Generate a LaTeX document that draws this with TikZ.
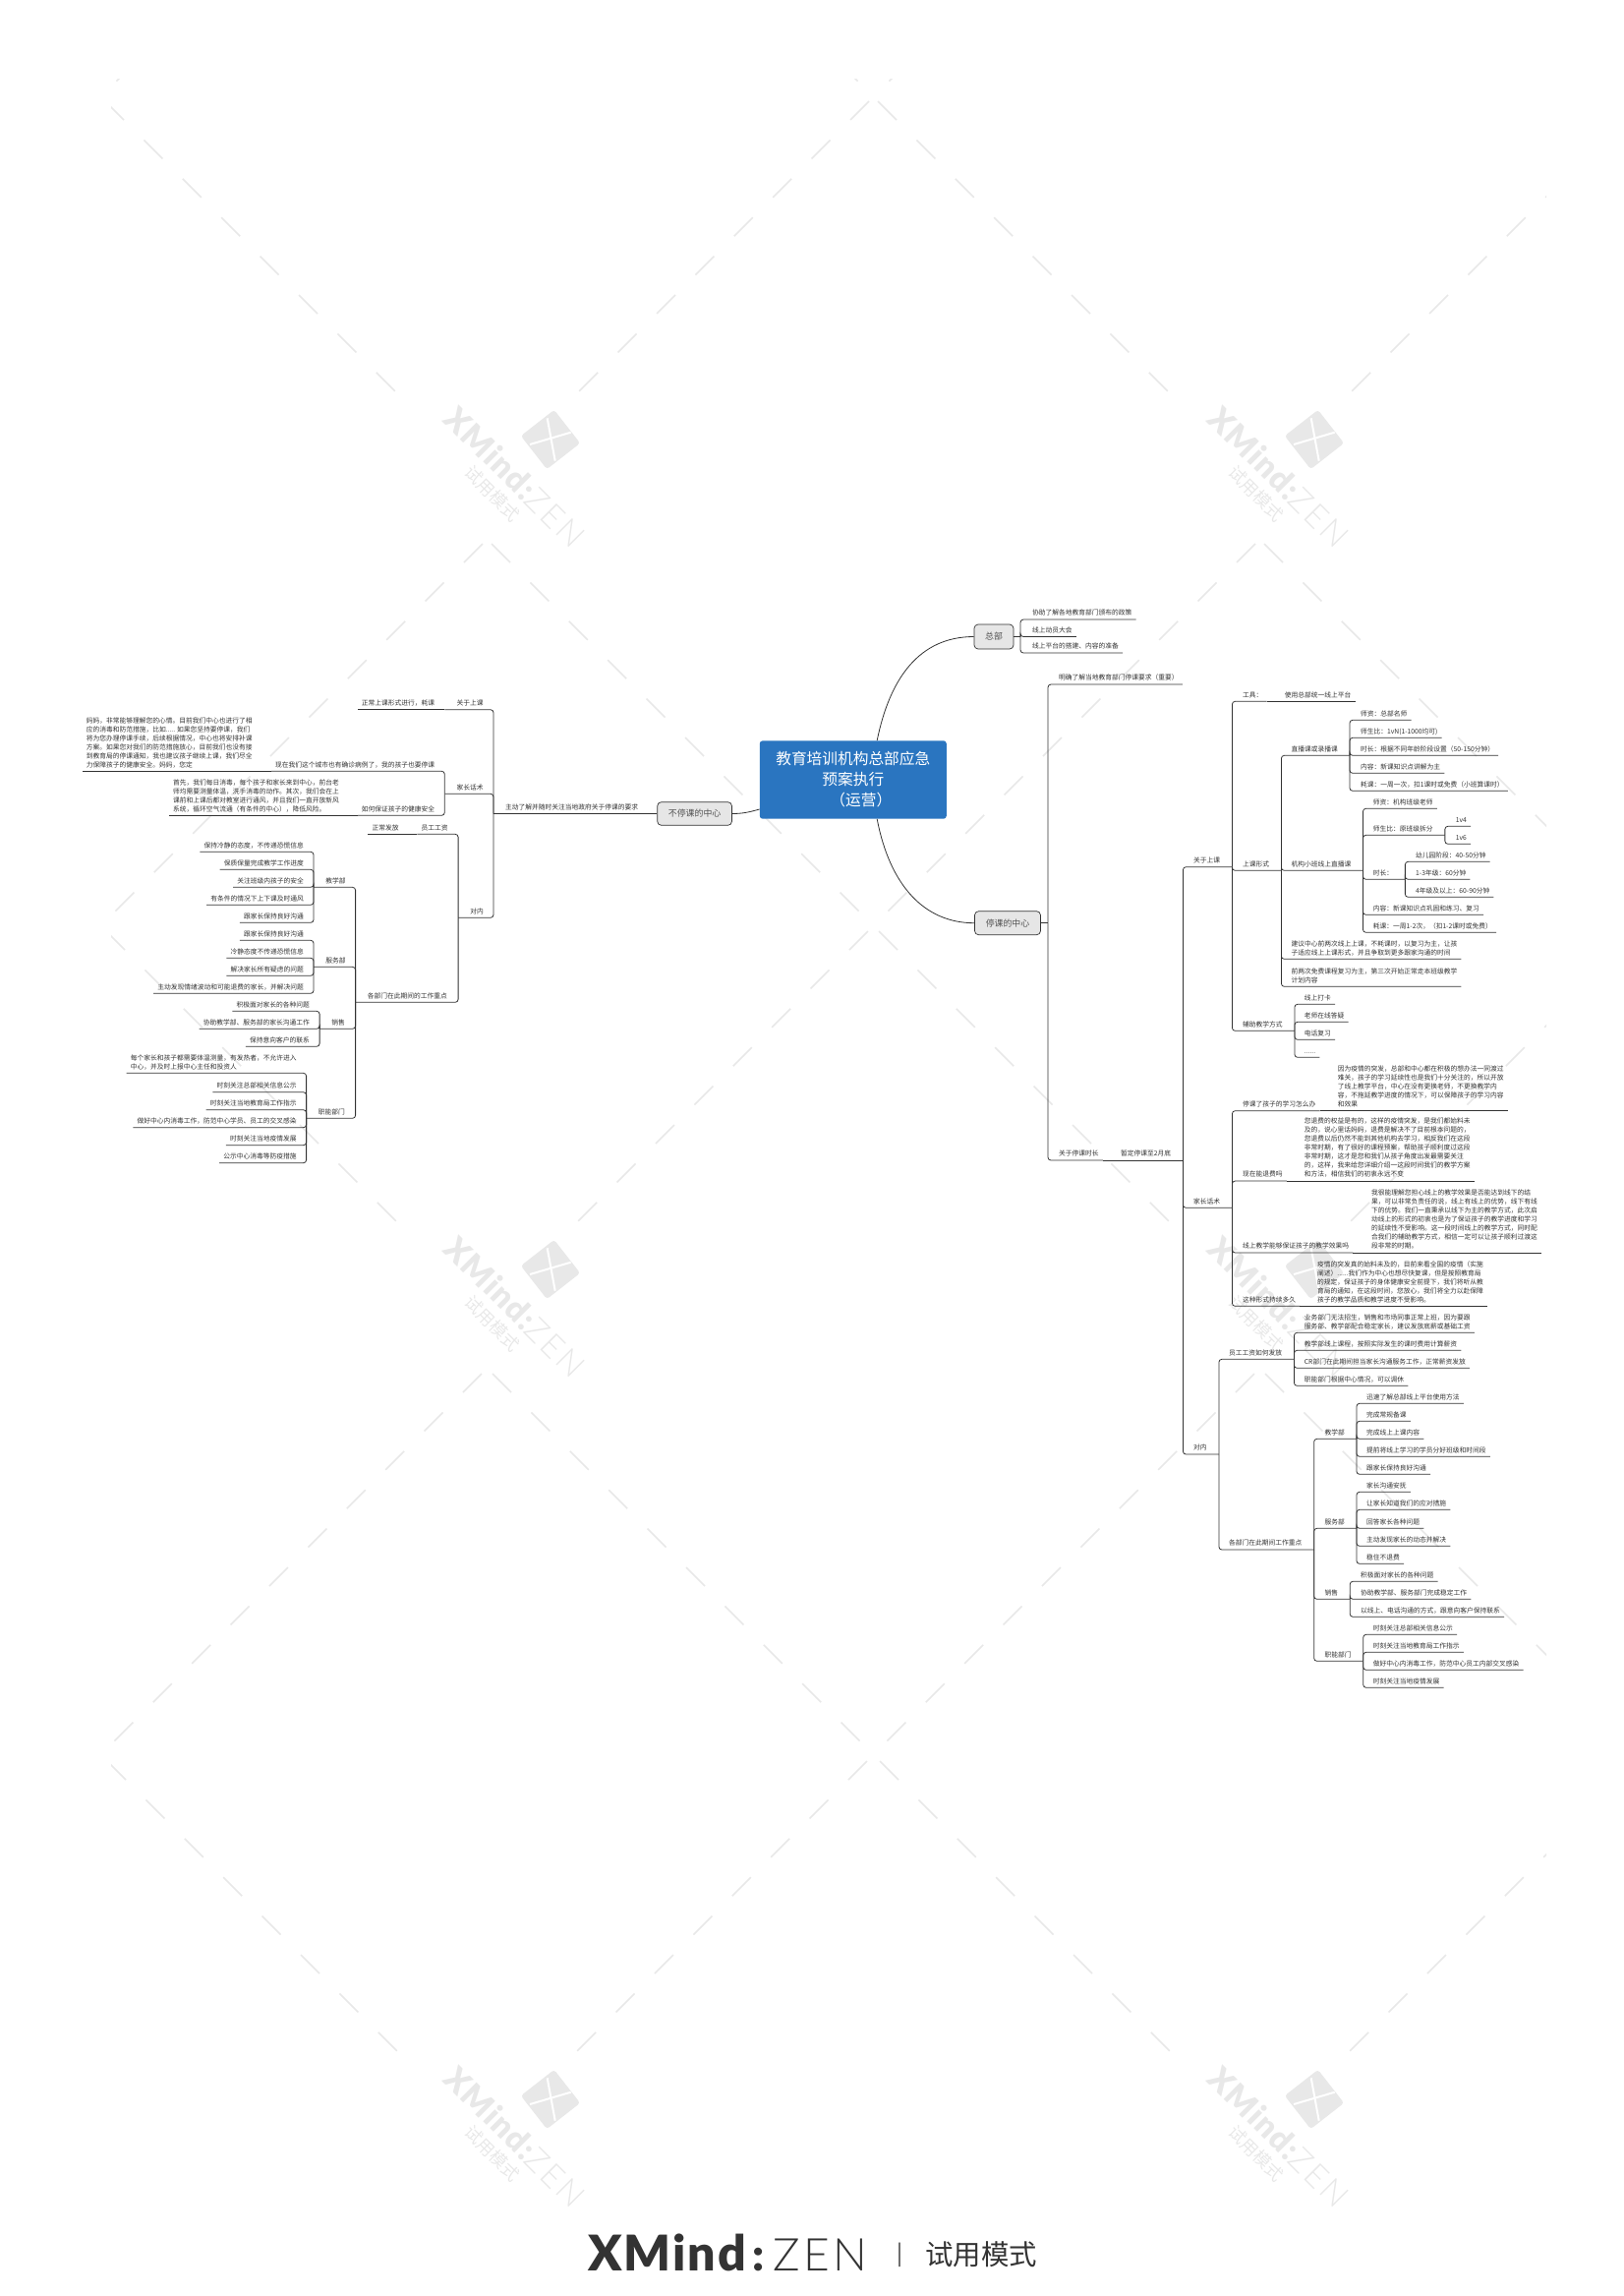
\documentclass[tikz,border=0pt]{standalone}
\usepackage{fontspec}
\setmainfont{Noto Sans CJK SC}
\newfontfamily\markfont{Lato Black}[LetterSpace=4]
\newfontfamily\marklight{Lato Light}[LetterSpace=8]
\definecolor{inkc}{HTML}{333333}
\definecolor{bluec}{HTML}{2A75C0}
\definecolor{topicc}{HTML}{E6E6E6}
\definecolor{wmc}{HTML}{E8E8E8}
\begin{document}
\begin{tikzpicture}[x=1pt,y=-1pt,
    wm/.style={wmc,line width=1.6pt},
    link/.style={inkc,line width=0.8pt,rounded corners=3pt},
    topic/.style={draw=inkc,fill=topicc,line width=0.7pt,rounded corners=4pt,text=inkc!85,font=\fontsize{8.9}{11}\selectfont,inner sep=0pt},
    itemtext/.style={inner xsep=4pt,inner ysep=3pt,text depth=1pt,text=inkc,font=\fontsize{6.75}{9}\selectfont},
    rt/.style={itemtext,anchor=south west,xshift=-4pt,align=left},
    lt/.style={itemtext,anchor=south east,xshift=4pt,align=left},
    rhub/.style={itemtext,anchor=south west,xshift=-4pt,execute at end node=\hspace*{8pt}},
    lhub/.style={itemtext,anchor=south east,xshift=4pt,execute at begin node=\hspace*{8pt}}]
    \useasboundingbox (0,0) rectangle (1652,2335);
    \begin{scope}
        \clip (113,80) rectangle (1573,2235);
        \foreach \tile in {-1,0,1} {
            \foreach \row in {0,...,17} {
                \pgfmathsetmacro\ya{553+844*\tile+39.4*\row}
                \foreach \col in {-3,...,4} {
                    \pgfmathsetmacro\xa{\ya-53-57*\tile+786*\col}
                    \pgfmathsetmacro\xb{258+57*\tile-\ya+786*\col}
                    \draw[wm] (\xa,\ya) -- ++(19,19);
                    \draw[wm] (\xb,\ya) -- ++(-19,19);
                }
            }
        }
    \end{scope}
    \foreach \lx/\ly in {524/485,1301/485,524/1329,1301/1329,524/2173,1301/2173} {
        \begin{scope}[shift={(\lx,\ly)}]
            \node[fill=wmc,rounded corners=3pt,minimum size=43pt,rotate=38,inner sep=0pt] (badge-\lx-\ly) at (36,-38) {};
            \draw[white,line width=2pt] (32.7,-59.7) -- (40.7,-16.3);
            \draw[white,line width=2pt] (15,-33) -- (56.7,-45.3);
            \node[wmc,rotate=-45,font=\fontsize{33}{33}\selectfont] (word-\lx-\ly) at (0,0) {{\markfont XMind:}{\marklight ZEN}};
            \node[wmc,rotate=-45,font=\fontsize{17.5}{18}\selectfont] (trial-\lx-\ly) at (-23,17) {试用模式};
        \end{scope}
    }

    \node[fill=bluec,rounded corners=3pt,minimum width=190pt,minimum height=79.4pt,inner sep=0pt,text=white,align=center,font=\fontsize{15.7}{21}\selectfont] (center) at (867.8,793) {教育培训机构总部应急\\预案执行\hspace*{12pt}\\\hspace*{16pt}（运营）};
    \node[topic,minimum width=40pt,minimum height=25pt] (hq) at (1011,647.5) {总部};
    \node[topic,minimum width=67pt,minimum height=24pt] (stop) at (1025,938.7) {停课的中心};
    \node[topic,minimum width=75.8pt,minimum height=23.6pt] (open) at (706.6,827.5) {不停课的中心};
    \draw[link] ([xshift=24.4pt]center.north) .. controls (905,690) and (935,647.5) .. (hq.west);
    \draw[link] ([xshift=24.4pt]center.south) .. controls (905,900) and (940,938.7) .. (stop.west);
    \draw[link] (center.west |- 0,823) .. controls (762,826) and (755,827.5) .. (open.east);

    \coordinate (hqs) at (1038,647.5);
    \node[rt] (hqa) at (1050,630) {协助了解各地教育部门颁布的政策};
    \node[rt] (hqb) at (1050,647.5) {线上动员大会};
    \node[rt] (hqc) at (1050,664) {线上平台的搭建、内容的准备};
    \draw[link] (hq.east) -- (hqs);
    \foreach \c in {hqa,hqb,hqc} \draw[link] (hqs) |- (\c.south east);

    \coordinate (stops) at (1066,938.7);
    \node[rt] (req) at (1077,696) {明确了解当地教育部门停课要求（重要）};
    \node[rt] (dur) at (1077,1180) {关于停课时长};
    \node[rhub] (feb) at (1140,1180) {暂定停课至2月底};
    \draw[link] (stop.east) -- (stops);
    \foreach \c in {req,dur} \draw[link] (stops) |- (\c.south east);
    \draw[link] (dur.south east) -- (feb.south east);

    \node[rhub] (cls) at (1214,881.7) {关于上课};
    \node[rhub] (say) at (1214,1228.3) {家长话术};
    \node[rhub] (inr) at (1214,1479) {对内};
    \foreach \c in {cls,say,inr} \draw[link] (feb.south east) |- (\c.south east);

    \node[rt] (tool) at (1264,713.3) {工具：};
    \node[rt] (tooluse) at (1306.7,713.3) {使用总部统一线上平台};
    \node[rhub] (form) at (1264,885.3) {上课形式};
    \node[rhub] (aid) at (1264,1048.3) {辅助教学方式};
    \foreach \c in {tool,form,aid} \draw[link] (cls.south east) |- (\c.south east);
    \draw[link] (tool.south east) -- (tooluse.south east);

    \node[rt] (aida) at (1326.7,1021.3) {线上打卡};
    \node[rt] (aidb) at (1326.7,1039.3) {老师在线答疑};
    \node[rt] (aidc) at (1326.7,1057.3) {电话复习};
    \node[rt] (aidd) at (1326.7,1075.3) {......};
    \foreach \c in {aida,aidb,aidc,aidd} \draw[link] (aid.south east) |- (\c.south east);

    \node[rhub] (live) at (1313.3,768.3) {直播课或录播课};
    \node[rhub] (small) at (1313.3,885.3) {机构小班线上直播课};
    \node[rt] (forma) at (1313.3,975.3) {建议中心前两次线上上课，不耗课时，以复习为主，让孩\\子适应线上上课形式，并且争取到更多跟家沟通的时间};
    \node[rt] (formb) at (1313.3,1003.3) {前两次免费课程复习为主，第三次开始正常走本班级教学\\计划内容};
    \foreach \c in {live,small,forma,formb} \draw[link] (form.south east) |- (\c.south east);

    \node[rt] (livea) at (1384,732.3) {师资：总部名师};
    \node[rt] (liveb) at (1384,750.3) {师生比：1vN(1-1000均可)};
    \node[rt] (livec) at (1384,768.3) {时长：根据不同年龄阶段设置（50-150分钟）};
    \node[rt] (lived) at (1384,786.3) {内容：新课知识点讲解为主};
    \node[rt] (livee) at (1384,804.3) {耗课：一周一次，扣1课时或免费（小班算课时）};
    \foreach \c in {livea,liveb,livec,lived,livee} \draw[link] (live.south east) |- (\c.south east);

    \node[rt] (smalla) at (1396.7,822.3) {师资：机构班级老师};
    \node[rhub] (smallb) at (1396.7,849.3) {师生比：原班级拆分};
    \node[rhub] (smallc) at (1396.7,894.3) {时长：};
    \node[rt] (smalld) at (1396.7,930.3) {内容：新课知识点巩固和练习、复习};
    \node[rt] (smalle) at (1396.7,948.3) {耗课：一周1-2次，（扣1-2课时或免费）};
    \foreach \c in {smalla,smallb,smallc,smalld,smalle} \draw[link] (small.south east) |- (\c.south east);
    \node[rt] (four) at (1480.7,840.3) {1v4};
    \node[rt] (six) at (1480.7,858.3) {1v6};
    \foreach \c in {four,six} \draw[link] (smallb.south east) |- (\c.south east);
    \node[rt] (kid) at (1440,876.3) {幼儿园阶段：40-50分钟};
    \node[rt] (low) at (1440,894.3) {1-3年级：60分钟};
    \node[rt] (high) at (1440,912.3) {4年级及以上：60-90分钟};
    \foreach \c in {kid,low,high} \draw[link] (smallc.south east) |- (\c.south east);

    \node[rt] (ska) at (1264,1129.7) {停课了孩子的学习怎么办};
    \node[rt] (ans) at (1360.7,1129.7) {因为疫情的突发，总部和中心都在积极的想办法一同渡过\\难关，孩子的学习延续性也是我们十分关注的，所以开放\\了线上教学平台，中心在没有更换老师，不更换教学内\\容，不拖延教学进度的情况下，可以保障孩子的学习内容\\和效果};
    \node[rt] (skb) at (1264,1201) {现在能退费吗};
    \node[rt] (anb) at (1326.7,1201) {您退费的权益是有的，这样的疫情突发，是我们都始料未\\及的，说心里话妈妈，退费是解决不了目前根本问题的，\\您退费以后仍然不能到其他机构去学习，相反我们在这段\\非常时期，有了很好的课程预案，帮助孩子顺利度过这段\\非常时期，这才是您和我们从孩子角度出发最需要关注\\的，这样，我来给您详细介绍一这段时间我们的教学方案\\和方法，相信我们的初衷永远不变};
    \node[rt] (skc) at (1264,1274) {线上教学能够保证孩子的教学效果吗};
    \node[rt] (anc) at (1395,1274) {我很能理解您担心线上的教学效果是否能达到线下的结\\果，可以非常负责任的说，线上有线上的优势，线下有线\\下的优势。我们一直秉承以线下为主的教学方式，此次启\\动线上的形式的初衷也是为了保证孩子的教学进度和学习\\的延续性不受影响。这一段时间线上的教学方式，同时配\\合我们的辅助教学方式，相信一定可以让孩子顺利过渡这\\段非常的时期。};
    \node[rt] (skd) at (1264,1328.3) {这种形式持续多久};
    \node[rt] (and) at (1340,1328.3) {疫情的突发真的始料未及的，目前来看全国的疫情（实施\\阐述）......我们作为中心也想尽快复课，但是按照教育局\\的规定，保证孩子的身体健康安全前提下，我们将听从教\\育局的通知，在这段时间，您放心，我们将全力以赴保障\\孩子的教学品质和教学进度不受影响。};
    \foreach \c/\d in {ska/ans,skb/anb,skc/anc,skd/and} {
        \draw[link] (say.south east) |- (\c.south east);
        \draw[link] (\c.south east) -- (\d.south east);
    }

    \node[rhub] (pay) at (1250,1382.3) {员工工资如何发放};
    \node[rhub] (dept) at (1250,1576) {各部门在此期间工作重点};
    \foreach \c in {pay,dept} \draw[link] (inr.south east) |- (\c.south east);
    \node[rt] (paya) at (1326.7,1355.3) {业务部门无法招生，销售和市场同事正常上班，因为要跟\\服务部、教学部配合稳定家长，建议发放底薪或基础工资};
    \node[rt] (payb) at (1326.7,1373.3) {教学部线上课程，按照实际发生的课时费用计算薪资};
    \node[rt] (payc) at (1326.7,1391.3) {CR部门在此期间担当家长沟通服务工作，正常薪资发放};
    \node[rt] (payd) at (1326.7,1409.3) {职能部门根据中心情况，可以调休};
    \foreach \c in {paya,payb,payc,payd} \draw[link] (pay.south east) |- (\c.south east);

    \node[rhub] (teach) at (1347.3,1463.3) {教学部};
    \node[rhub] (serve) at (1347.3,1554.3) {服务部};
    \node[rhub] (sale) at (1347.3,1626.3) {销售};
    \node[rhub] (func) at (1347.3,1689.3) {职能部门};
    \foreach \c in {teach,serve,sale,func} \draw[link] (dept.south east) |- (\c.south east);
    \node[rt] (teacha) at (1390,1427.3) {迅速了解总部线上平台使用方法};
    \node[rt] (teachb) at (1390,1445.3) {完成常规备课};
    \node[rt] (teachc) at (1390,1463.3) {完成线上上课内容};
    \node[rt] (teachd) at (1390,1481.3) {提前将线上学习的学员分好班级和时间段};
    \node[rt] (teache) at (1390,1499.3) {跟家长保持良好沟通};
    \foreach \c in {teacha,teachb,teachc,teachd,teache} \draw[link] (teach.south east) |- (\c.south east);
    \node[rt] (servea) at (1390,1517.3) {家长沟通安抚};
    \node[rt] (serveb) at (1390,1535.3) {让家长知道我们的应对措施};
    \node[rt] (servec) at (1390,1554.3) {回答家长各种问题};
    \node[rt] (served) at (1390,1572.3) {主动发现家长的动态并解决};
    \node[rt] (servee) at (1390,1590.3) {稳住不退费};
    \foreach \c in {servea,serveb,servec,served,servee} \draw[link] (serve.south east) |- (\c.south east);
    \node[rt] (salea) at (1384,1608.3) {积极面对家长的各种问题};
    \node[rt] (saleb) at (1384,1626.3) {协助教学部、服务部门完成稳定工作};
    \node[rt] (salec) at (1384,1644.3) {以线上、电话沟通的方式，跟意向客户保持联系};
    \foreach \c in {salea,saleb,salec} \draw[link] (sale.south east) |- (\c.south east);
    \node[rt] (funca) at (1396.7,1662.3) {时刻关注总部相关信息公示};
    \node[rt] (funcb) at (1396.7,1680.3) {时刻关注当地教育局工作指示};
    \node[rt] (funcc) at (1396.7,1698.3) {做好中心内消毒工作，防范中心员工内部交叉感染};
    \node[rt] (funcd) at (1396.7,1716.3) {时刻关注当地疫情发展};
    \foreach \c in {funca,funcb,funcc,funcd} \draw[link] (func.south east) |- (\c.south east);

    \node[lhub] (act) at (649.4,827.5) {主动了解并随时关注当地政府关于停课的要求};
    \draw[link] (open.west) -- (act.south west);
    \node[lhub] (lcls) at (491.7,721.7) {关于上课};
    \node[lhub] (lsay) at (491.7,807.3) {家长话术};
    \node[lhub] (linr) at (492,933.3) {对内};
    \foreach \c in {lcls,lsay,linr} \draw[link] (act.south west) |- (\c.south west);
    \node[lt] (lform) at (442.3,721.7) {正常上课形式进行，耗课};
    \draw[link] (lcls.south west) -- (lform.south west);

    \node[lt] (lska) at (442.3,784.3) {现在我们这个城市也有确诊病例了，我的孩子也要停课};
    \node[lt] (lans) at (256.7,784.3) {妈妈，非常能够理解您的心情。目前我们中心也进行了相\\应的消毒和防范措施，比如..... 如果您坚持要停课，我们\\将为您办理停课手续，后续根据情况，中心也将安排补课\\方案。如果您对我们的防范措施放心，目前我们也没有接\\到教育局的停课通知，我也建议孩子继续上课，我们尽全\\力保障孩子的健康安全。妈妈，您定};
    \node[lt] (lskb) at (442.3,829.3) {如何保证孩子的健康安全};
    \node[lt] (lanb) at (345,829.3) {首先，我们每日消毒，每个孩子和家长来到中心，前台老\\师均需要测量体温，洗手消毒的动作。其次，我们会在上\\课前和上课后都对教室进行通风，并且我们一直开放新风\\系统，循环空气流通（有条件的中心），降低风险。};
    \foreach \c/\d in {lska/lans,lskb/lanb} {
        \draw[link] (lsay.south west) |- (\c.south west);
        \draw[link] (\c.south west) -- (\d.south west);
    }

    \node[lt] (lpay) at (455.7,848.3) {员工工资};
    \node[lt] (lpaya) at (405.7,848.3) {正常发放};
    \node[lhub] (ldept) at (455,1019.3) {各部门在此期间的工作重点};
    \foreach \c in {lpay,ldept} \draw[link] (linr.south west) |- (\c.south west);
    \draw[link] (lpay.south west) -- (lpaya.south west);
    \node[lhub] (lteach) at (351.7,902.3) {教学部};
    \node[lhub] (lserve) at (351.7,983.3) {服务部};
    \node[lhub] (lsale) at (351,1046.3) {销售};
    \node[lhub] (lfunc) at (351,1137.3) {职能部门};
    \foreach \c in {lteach,lserve,lsale,lfunc} \draw[link] (ldept.south west) |- (\c.south west);
    \node[lt] (lteacha) at (309,866.3) {保持冷静的态度，不传递恐慌信息};
    \node[lt] (lteachb) at (309,884.3) {保质保量完成教学工作进度};
    \node[lt] (lteachc) at (309,902.3) {关注班级内孩子的安全};
    \node[lt] (lteachd) at (309,920.3) {有条件的情况下上下课及时通风};
    \node[lt] (lteache) at (309,938.3) {跟家长保持良好沟通};
    \foreach \c in {lteacha,lteachb,lteachc,lteachd,lteache} \draw[link] (lteach.south west) |- (\c.south west);
    \node[lt] (lservea) at (309,956.3) {跟家长保持良好沟通};
    \node[lt] (lserveb) at (309,974.3) {冷静态度不传递恐慌信息};
    \node[lt] (lservec) at (309,992.3) {解决家长所有疑虑的问题};
    \node[lt] (lserved) at (309,1010.3) {主动发现情绪波动和可能退费的家长，并解决问题};
    \foreach \c in {lservea,lserveb,lservec,lserved} \draw[link] (lserve.south west) |- (\c.south west);
    \node[lt] (lsalea) at (315,1028.3) {积极面对家长的各种问题};
    \node[lt] (lsaleb) at (315,1046.3) {协助教学部、服务部的家长沟通工作};
    \node[lt] (lsalec) at (315,1064.3) {保持意向客户的联系};
    \foreach \c in {lsalea,lsaleb,lsalec} \draw[link] (lsale.south west) |- (\c.south west);
    \node[lt] (lfunca) at (301.7,1091.3) {每个家长和孩子都需要体温测量，有发热者，不允许进入\\中心，并及时上报中心主任和投资人};
    \node[lt] (lfuncb) at (301.7,1110.7) {时刻关注总部相关信息公示};
    \node[lt] (lfuncc) at (301.7,1128.7) {时刻关注当地教育局工作指示};
    \node[lt] (lfuncd) at (301.7,1146.7) {做好中心内消毒工作，防范中心学员、员工的交叉感染};
    \node[lt] (lfunce) at (301.7,1164.7) {时刻关注当地疫情发展};
    \node[lt] (lfuncf) at (301.7,1182.7) {公示中心消毒等防疫措施};
    \foreach \c in {lfunca,lfuncb,lfuncc,lfuncd,lfunce,lfuncf} \draw[link] (lfunc.south west) |- (\c.south west);

    \node[anchor=base west,inner sep=0pt,text=inkc,font=\fontsize{50}{50}\selectfont] (brand) at (598,2309) {\markfont XMind};
    \node[anchor=base west,inner sep=0pt,text=inkc,font=\fontsize{46}{46}\selectfont] (colon) at (765,2309) {\markfont :};
    \node[anchor=base west,inner sep=0pt,text=inkc,font=\fontsize{46}{46}\selectfont] (zen) at (786,2309) {\marklight ZEN};
    \node[anchor=center,inner sep=0pt,text=inkc,font=\fontsize{22}{22}\selectfont] (bar) at (915.7,2293) {|};
    \node[anchor=center,inner sep=0pt,text=inkc,font=\fontsize{28.4}{29}\selectfont] (mode) at (998,2293) {试用模式};
\end{tikzpicture}
\end{document}
